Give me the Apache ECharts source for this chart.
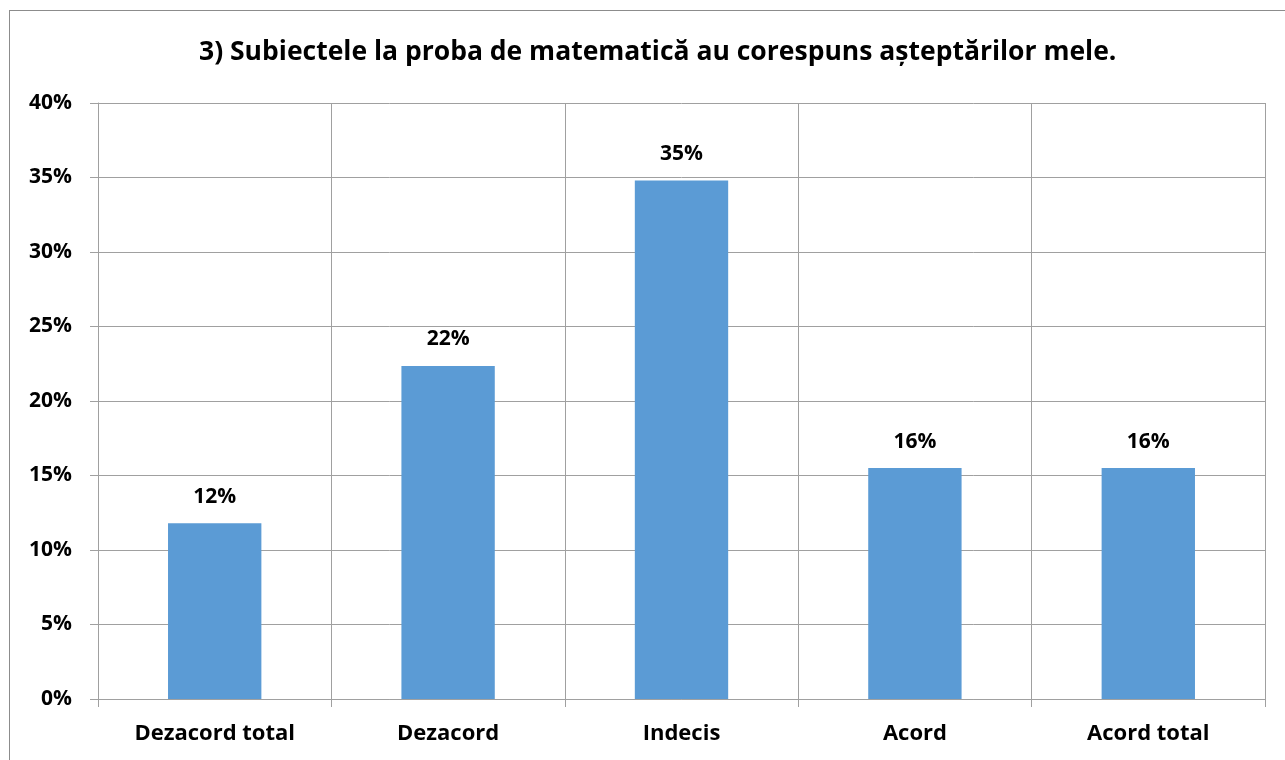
<!DOCTYPE html>
<html>
<head>
<meta charset="utf-8">
<script src="https://cdn.jsdelivr.net/npm/echarts@6/dist/echarts.min.js"></script>
<style>
  html, body { margin: 0; padding: 0; background: #fff; }
  #frame { position: absolute; left: 9px; top: 10px; width: 1290px; height: 770px; border: 1px solid #8c8c8c; box-sizing: border-box; }
  #chart { position: absolute; left: 0; top: 0; width: 1285px; height: 760px; }
</style>
</head>
<body>
<div id="frame"></div>
<div id="chart"></div>
<script>
// chart data
var categories = ["Dezacord total", "Dezacord", "Indecis", "Acord", "Acord total"];
var values = [11.8, 22.35, 34.8, 15.5, 15.5];
var labels = ["12%", "22%", "35%", "16%", "16%"];
var titleText = "3) Subiectele la proba de matematică au corespuns așteptărilor mele.";

var font = "Open Sans";
var myChart = echarts.init(document.getElementById("chart"));
var option = {
  backgroundColor: "rgba(0,0,0,0)",
  animation: false,
  title: {
    text: titleText,
    left: 194,
    top: 34,
    textStyle: { fontFamily: font, fontWeight: "bold", fontSize: 26.5, color: "#000" }
  },
  grid: { left: 98, right: 20, top: 103, bottom: 61, containLabel: false },
  xAxis: {
    type: "category",
    data: categories,
    axisLine: { lineStyle: { color: "#a0a0a0", width: 1 } },
    axisTick: { show: true, length: 8, lineStyle: { color: "#a0a0a0" } },
    splitLine: { show: true, lineStyle: { color: "#a0a0a0", width: 1 } },
    axisLabel: { margin: 24, fontFamily: font, fontWeight: "bold", fontSize: 22, color: "#000" }
  },
  yAxis: {
    type: "value",
    min: 0,
    max: 40,
    interval: 5,
    axisLine: { show: true, lineStyle: { color: "#a0a0a0", width: 1 } },
    axisTick: { show: true, length: 8, lineStyle: { color: "#a0a0a0" } },
    splitLine: { show: true, lineStyle: { color: "#a0a0a0", width: 1 } },
    axisLabel: {
      margin: 26,
      fontFamily: font, fontWeight: "bold", fontSize: 21, color: "#000",
      formatter: function (v) { return v + "%"; }
    }
  },
  series: [
    {
      type: "bar",
      data: values,
      barWidth: "40%",
      itemStyle: { color: "#5b9bd5" },
      label: {
        show: true,
        position: "top",
        distance: 16,
        fontFamily: font, fontWeight: "bold", fontSize: 21, color: "#000",
        formatter: function (p) { return labels[p.dataIndex]; }
      }
    }
  ]
};
myChart.setOption(option);
</script>
</body>
</html>
